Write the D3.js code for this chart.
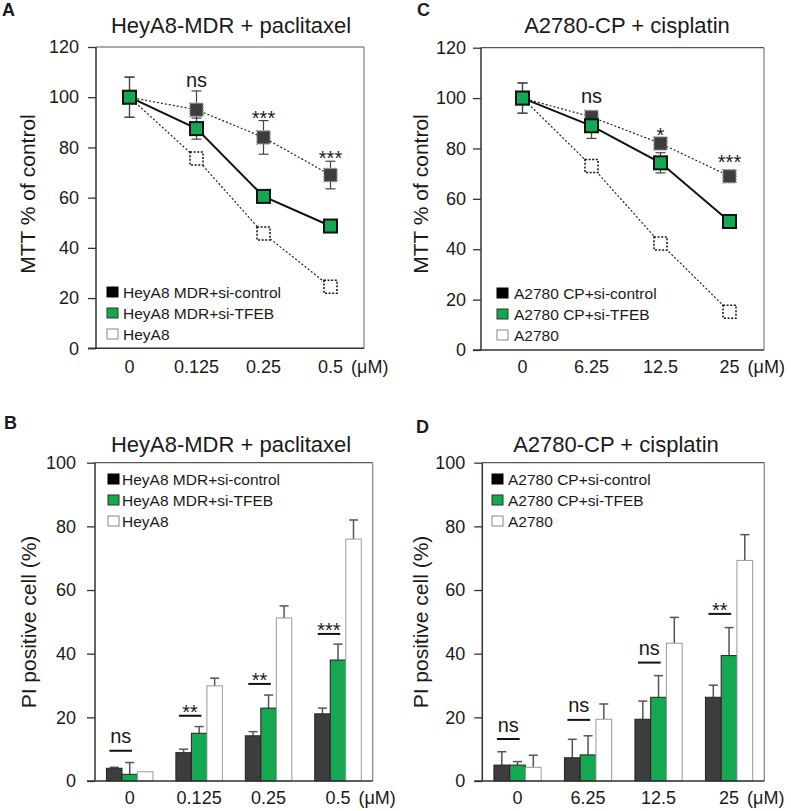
<!DOCTYPE html>
<html><head><meta charset="utf-8">
<script src="https://cdn.jsdelivr.net/npm/d3@7"></script>
<style>
body{margin:0;background:#fff}
svg{display:block}
text{font-family:"Liberation Sans",Arial,sans-serif;fill:#1a1a1a}
</style>
</head><body><div id="chart"></div>
<script>
// ---------------- DATA ----------------
const dosesPaclitaxel = ["0", "0.125", "0.25", "0.5"];
const dosesCisplatin = ["0", "6.25", "12.5", "25"];
const seriesKeys = ["siControl", "siTFEB", "parent"];
const legendHeyA8 = ["HeyA8 MDR+si-control", "HeyA8 MDR+si-TFEB", "HeyA8"];
const legendA2780 = ["A2780 CP+si-control", "A2780 CP+si-TFEB", "A2780"];
const mttTicks = [0, 20, 40, 60, 80, 100, 120];
const piTicks = [0, 20, 40, 60, 80, 100];
const unitLabel = "(\u03bcM)";

// Panel A: MTT, HeyA8-MDR + paclitaxel
const mttA_siControl = [100, 95, 84, 69];
const mttA_siControlErr = [8, 7.5, 6.7, 5.5];
const mttA_siTFEB = [100, 87.5, 60.5, 48.7];
const mttA_siTFEBErr = [8, 4.2, 1.5, 1.2];
const mttA_parent = [100, 75.6, 45.7, 24.5];
const mttA_parentErr = [0, 0, 0, 0];
const mttA_sig = ["", "ns", "***", "***"];
const mttA_sigY = [null, 104, 89, 73];

// Panel C: MTT, A2780-CP + cisplatin
const mttC_siControl = [100, 92.5, 82, 69];
const mttC_siControlErr = [6, 2, 1.5, 1.5];
const mttC_siTFEB = [100, 89, 74.3, 51];
const mttC_siTFEBErr = [6, 5, 4, 2];
const mttC_parent = [100, 73, 42.3, 15.2];
const mttC_parentErr = [0, 0, 0, 0];
const mttC_sig = ["", "ns", "*", "***"];
const mttC_sigY = [null, 98, 82.5, 71.7];

// Panel B: PI positive cells, HeyA8-MDR + paclitaxel
const piB_siControl = [4, 8.9, 14.2, 21.1];
const piB_siControlErr = [0.3, 1.1, 1.3, 1.8];
const piB_siTFEB = [2.1, 15, 22.9, 38];
const piB_siTFEBErr = [3.7, 2.1, 4.1, 5];
const piB_parent = [2.9, 29.9, 51.2, 76];
const piB_parentErr = [0, 2.4, 3.8, 6];
const piB_sig = ["ns", "**", "**", "***"];
const piB_sigLine = [9.5, 20.5, 30.5, 46.2];

// Panel D: PI positive cells, A2780-CP + cisplatin
const piD_siControl = [5, 7.3, 19.4, 26.3];
const piD_siControlErr = [4.2, 5.8, 5.7, 3.8];
const piD_siTFEB = [5, 8.2, 26.3, 39.4];
const piD_siTFEBErr = [1.1, 6, 6.8, 8.8];
const piD_parent = [4.3, 19.4, 43.3, 69.3];
const piD_parentErr = [3.8, 4.8, 8.1, 8.1];
const piD_sig = ["ns", "ns", "ns", "**"];
const piD_sigLine = [13.2, 19.2, 37.2, 52.5];

// ---------------- STYLE ----------------
const GREEN = "#14a850";
const DARK = "#3d3d3d";
const W = 791, H = 811;

const svg = d3.select("#chart").append("svg").attr("width", W).attr("height", H);
svg.append("rect").attr("width", W).attr("height", H).attr("fill", "#fff");

function frame(g, f) {
  g.append("line").attr("x1", f.l).attr("x2", f.r).attr("y1", f.t).attr("y2", f.t).attr("stroke", "#555").attr("stroke-width", 1.2);
  g.append("line").attr("x1", f.r).attr("x2", f.r).attr("y1", f.t).attr("y2", f.b).attr("stroke", "#888").attr("stroke-width", 1.3);
  g.append("line").attr("x1", f.l).attr("x2", f.l).attr("y1", f.t).attr("y2", f.b).attr("stroke", "#333").attr("stroke-width", 1.5);
  g.append("line").attr("x1", f.l - 8).attr("x2", f.r).attr("y1", f.b).attr("y2", f.b).attr("stroke", "#333").attr("stroke-width", 1.5);
}

function yAxis(g, f, y, ticks, pad) {
  const ax = g.append("g").attr("transform", `translate(${f.l},0)`)
    .call(d3.axisLeft(y).tickValues(ticks).tickSize(8).tickPadding(pad));
  ax.select(".domain").remove();
  ax.attr("font-size", 18).attr("font-family", '"Liberation Sans",Arial,sans-serif');
  ax.selectAll(".tick line").attr("stroke", "#333").attr("stroke-width", 1.3);
  ax.selectAll(".tick text").attr("fill", "#1a1a1a");
}

function labels(g, p) {
  g.append("text").attr("x", p.letter[0]).attr("y", p.letter[1]).attr("font-size", 18).attr("font-weight", "bold").text(p.letterText);
  g.append("text").attr("x", p.title[0]).attr("y", p.title[1]).attr("text-anchor", "middle").attr("font-size", 22).text(p.titleText);
  g.append("text").attr("transform", `translate(${p.ylab[0]},${p.ylab[1]}) rotate(-90)`).attr("text-anchor", "middle").attr("font-size", 21).text(p.ylabText);
}

function xLabels(g, x, doses, yBase, centerFn) {
  let last = null;
  doses.forEach(d => {
    last = g.append("text").attr("x", centerFn(d)).attr("y", yBase).attr("text-anchor", "middle").attr("font-size", 18).text(d);
  });
  const lastW = last.node().getComputedTextLength();
  g.append("text").attr("x", centerFn(doses[doses.length - 1]) + lastW / 2 + 8).attr("y", yBase).attr("font-size", 18).text(unitLabel);
}

function legend(g, lg, names) {
  const fills = [["#000", "#000"], [GREEN, "#333"], ["#fff", "#888"]];
  names.forEach((n, i) => {
    g.append("rect").attr("x", lg.x).attr("y", lg.ys[i] - 5).attr("width", 11).attr("height", 10)
      .attr("fill", fills[i][0]).attr("stroke", fills[i][1]).attr("stroke-width", 1);
    g.append("text").attr("x", lg.tx).attr("y", lg.ys[i]).attr("dy", "0.36em").attr("font-size", 15.5).attr("fill", "#222").text(n);
  });
}

function linePanel(p) {
  const g = svg.append("g");
  const f = p.frame;
  const x = d3.scalePoint().domain(p.doses).range(p.xRange).padding(0.5);
  const y = d3.scaleLinear().domain([0, 120]).range([f.b, f.t]);
  frame(g, f);
  yAxis(g, f, y, mttTicks, p.tickPad);
  labels(g, p);
  xLabels(g, x, p.doses, p.xLabY, d => x(d));

  const styles = {
    parent: {line: {stroke: "#222", w: 1.2, dash: "2,2"}, fill: "#fff", mstroke: "#111", mdash: "2,1.6", mw: 1.5},
    siControl: {line: {stroke: "#222", w: 1.2, dash: "2,2"}, fill: DARK, mstroke: "#888", mdash: "1.5,1.2", mw: 1.6},
    siTFEB: {line: {stroke: "#111", w: 2, dash: null}, fill: GREEN, mstroke: "#111", mdash: null, mw: 2}
  };
  const order = ["parent", "siControl", "siTFEB"];
  const lineGen = d3.line().x((d, i) => x(p.doses[i])).y(d => y(d));
  order.forEach(k => {
    const s = styles[k].line;
    g.append("path").datum(p.series[k].vals).attr("d", lineGen).attr("fill", "none")
      .attr("stroke", s.stroke).attr("stroke-width", s.w).attr("stroke-dasharray", s.dash);
  });
  // error bars
  order.forEach(k => {
    const sr = p.series[k];
    sr.vals.forEach((v, i) => {
      const e = sr.err[i];
      if (!e) return;
      const cx = x(p.doses[i]);
      const eg = g.append("g").attr("stroke", "#444").attr("stroke-width", 1.2);
      eg.append("line").attr("x1", cx).attr("x2", cx).attr("y1", y(v - e)).attr("y2", y(v + e));
      eg.append("line").attr("x1", cx - 5).attr("x2", cx + 5).attr("y1", y(v - e)).attr("y2", y(v - e));
      eg.append("line").attr("x1", cx - 5).attr("x2", cx + 5).attr("y1", y(v + e)).attr("y2", y(v + e));
    });
  });
  // markers
  const ms = 13;
  order.forEach(k => {
    const st = styles[k];
    g.selectAll(null).data(p.series[k].vals).enter().append("rect")
      .attr("x", (d, i) => x(p.doses[i]) - ms / 2).attr("y", d => y(d) - ms / 2)
      .attr("width", ms).attr("height", ms).attr("fill", st.fill)
      .attr("stroke", st.mstroke).attr("stroke-width", st.mw).attr("stroke-dasharray", st.mdash);
  });
  // significance
  p.sig.forEach((s, i) => {
    if (!s) return;
    g.append("text").attr("x", x(p.doses[i])).attr("y", y(p.sigY[i])).attr("text-anchor", "middle").attr("font-size", 20).text(s);
  });
  legend(g, p.legend, p.legendNames);
}

function barPanel(p) {
  const g = svg.append("g");
  const f = p.frame;
  const x0 = d3.scaleBand().domain(p.doses).range([f.l, f.r]).paddingInner(0.33).paddingOuter(0.165);
  const x1 = d3.scaleBand().domain(seriesKeys).range([0, x0.bandwidth()]);
  const y = d3.scaleLinear().domain([0, 100]).range([f.b, f.t]);
  labels(g, p);
  const fills = {siControl: [DARK, "#222"], siTFEB: [GREEN, "#222"], parent: ["#fff", "#999"]};
  // error bars (upper only)
  seriesKeys.forEach(k => {
    const sr = p.series[k];
    sr.vals.forEach((v, i) => {
      const e = sr.err[i];
      if (!e) return;
      const cx = x0(p.doses[i]) + x1(k) + x1.bandwidth() / 2;
      const eg = g.append("g").attr("stroke", "#555").attr("stroke-width", 1.5);
      eg.append("line").attr("x1", cx).attr("x2", cx).attr("y1", y(v)).attr("y2", y(v + e));
      eg.append("line").attr("x1", cx - 4.5).attr("x2", cx + 4.5).attr("y1", y(v + e)).attr("y2", y(v + e));
    });
  });
  seriesKeys.forEach(k => {
    g.selectAll(null).data(p.series[k].vals).enter().append("rect")
      .attr("x", (d, i) => x0(p.doses[i]) + x1(k)).attr("y", d => y(d))
      .attr("width", x1.bandwidth()).attr("height", d => y(0) - y(d))
      .attr("fill", fills[k][0]).attr("stroke", fills[k][1]).attr("stroke-width", 1);
  });
  frame(g, f);
  yAxis(g, f, y, piTicks, p.tickPad);
  xLabels(g, x0, p.doses, p.xLabY, d => x0(d) + x0.bandwidth() / 2);
  // significance lines
  p.sig.forEach((s, i) => {
    const xs = x0(p.doses[i]) + 3;
    const xe = x0(p.doses[i]) + x1.bandwidth() + 10;
    const yy = y(p.sigLine[i]);
    g.append("line").attr("x1", xs).attr("x2", xe).attr("y1", yy).attr("y2", yy).attr("stroke", "#111").attr("stroke-width", 2);
    const isStar = s.indexOf("*") >= 0;
    g.append("text").attr("x", (xs + xe) / 2).attr("y", isStar ? yy + 3 : yy - 7.4)
      .attr("text-anchor", "middle").attr("font-size", 20).text(s);
  });
  legend(g, p.legend, p.legendNames);
}

linePanel({
  doses: dosesPaclitaxel,
  frame: {l: 96, t: 47, r: 364, b: 348.3},
  xRange: [96, 364], tickPad: 9, xLabY: 373,
  letterText: "A", letter: [2, 16],
  titleText: "HeyA8-MDR + paclitaxel", title: [231, 33],
  ylabText: "MTT % of control", ylab: [35, 194],
  series: {
    siControl: {vals: mttA_siControl, err: mttA_siControlErr},
    siTFEB: {vals: mttA_siTFEB, err: mttA_siTFEBErr},
    parent: {vals: mttA_parent, err: mttA_parentErr}
  },
  sig: mttA_sig, sigY: mttA_sigY,
  legend: {x: 107, ys: [292, 313, 334], tx: 123},
  legendNames: legendHeyA8
});

linePanel({
  doses: dosesCisplatin,
  frame: {l: 481, t: 47.7, r: 764, b: 350},
  xRange: [488, 764], tickPad: 7, xLabY: 373,
  letterText: "C", letter: [417, 16],
  titleText: "A2780-CP + cisplatin", title: [627, 33],
  ylabText: "MTT % of control", ylab: [428, 194],
  series: {
    siControl: {vals: mttC_siControl, err: mttC_siControlErr},
    siTFEB: {vals: mttC_siTFEB, err: mttC_siTFEBErr},
    parent: {vals: mttC_parent, err: mttC_parentErr}
  },
  sig: mttC_sig, sigY: mttC_sigY,
  legend: {x: 497, ys: [293, 314, 335], tx: 514},
  legendNames: legendA2780
});

barPanel({
  doses: dosesPaclitaxel,
  frame: {l: 95, t: 462.7, r: 372.7, b: 781},
  tickPad: 11, xLabY: 804,
  letterText: "B", letter: [4, 429],
  titleText: "HeyA8-MDR + paclitaxel", title: [231, 452],
  ylabText: "PI positive cell (%)", ylab: [36, 622],
  series: {
    siControl: {vals: piB_siControl, err: piB_siControlErr},
    siTFEB: {vals: piB_siTFEB, err: piB_siTFEBErr},
    parent: {vals: piB_parent, err: piB_parentErr}
  },
  sig: piB_sig, sigLine: piB_sigLine,
  legend: {x: 108, ys: [479, 500, 521], tx: 122},
  legendNames: legendHeyA8
});

barPanel({
  doses: dosesCisplatin,
  frame: {l: 482.3, t: 462.7, r: 764.3, b: 781},
  tickPad: 9, xLabY: 804,
  letterText: "D", letter: [416, 433],
  titleText: "A2780-CP + cisplatin", title: [616, 452],
  ylabText: "PI positive cell (%)", ylab: [428, 622],
  series: {
    siControl: {vals: piD_siControl, err: piD_siControlErr},
    siTFEB: {vals: piD_siTFEB, err: piD_siTFEBErr},
    parent: {vals: piD_parent, err: piD_parentErr}
  },
  sig: piD_sig, sigLine: piD_sigLine,
  legend: {x: 492, ys: [479, 500, 521], tx: 508},
  legendNames: legendA2780
});
</script>
</body></html>
